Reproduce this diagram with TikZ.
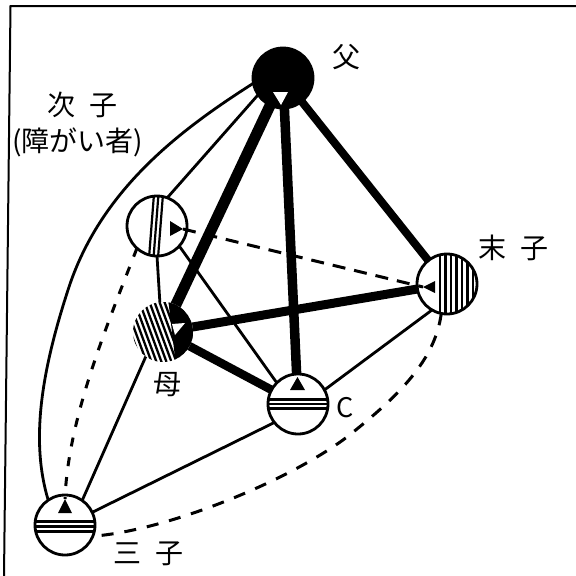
\documentclass[tikz,border=0pt]{standalone}
\usepackage{fontspec}
\newfontfamily\jp{Noto Sans CJK JP}
\usetikzlibrary{backgrounds,calc}
\begin{document}
\begin{tikzpicture}[x=1pt,y=-1pt,
  pers/.style={circle, minimum size=60pt, inner sep=0pt, outer sep=0pt, line width=2.8pt},
  rel/.style={line width=2.8pt},
  strong/.style={line width=#1},
  dsh/.style={line width=3pt, dash pattern=on #1},
  lbl/.style={font=\jp\fontsize{28}{30}\selectfont, inner sep=0pt},
  tri/.style={fill=black}
]
\useasboundingbox (0,0) rectangle (576,576);
\draw[line width=2pt] (4,576) -- (10.5,6) -- (576,6);

% persons
\node[pers, draw, fill=black] (fa) at (283,78) {};
\node[pers, draw, fill=white, path picture={
  \begin{scope}[shift={(path picture bounding box.center)}]
  \foreach \d in {-3,1.5,6} \draw[black, line width=2.2pt] (\d,-32) -- (\d-5,32);
  \end{scope}}] (sc) at (157,226) {};
\node[pers, fill=white, path picture={
  \begin{scope}[shift={(path picture bounding box.center)}]
  \foreach \d in {-50,-45,...,15} \draw[black, line width=2.3pt] (\d,-34) -- (\d+25,34);
  \fill[black] (5,-34) -- (40,-34) -- (40,34) -- (13,34) -- cycle;
  \fill[white] (9,-8) -- (22,-9) -- (12,3) -- cycle;
  \end{scope}}] (mo) at (163,332) {};
\node[pers, draw, fill=white, path picture={
  \begin{scope}[shift={(path picture bounding box.center)}]
  \foreach \d in {-7,-1.5,4,9.5,15,20.5,26} \draw[black, line width=2.2pt] (\d,-32) -- (\d,32);
  \end{scope}}] (yo) at (447,284) {};
\node[pers, draw, fill=white, path picture={
  \begin{scope}[shift={(path picture bounding box.center)}]
  \foreach \d in {-4.5,0,4.5} \draw[black, line width=2.6pt] (-32,\d) -- (32,\d);
  \end{scope}}] (cc) at (298,404) {};
\node[pers, draw, fill=white, path picture={
  \begin{scope}[shift={(path picture bounding box.center)}]
  \foreach \d in {-4,1,6} \draw[black, line width=3pt] (-32,\d) -- (32,\d);
  \end{scope}}] (tc) at (65,525) {};

% triangles
\fill[white] ($(fa)+(-10,14)$) -- ($(fa)+(5,14)$) -- ($(fa)+(-2,27)$) -- cycle;
\fill[tri] ($(sc)+(13,-5)$) -- ($(sc)+(13,10)$) -- ($(sc)+(26,3)$) -- cycle;
\fill[tri] ($(yo)+(-24,3)$) -- ($(yo)+(-12,-3)$) -- ($(yo)+(-12,9)$) -- cycle;
\fill[tri] ($(cc)+(-8,-14)$) -- ($(cc)+(7,-14)$) -- ($(cc)+(-0.5,-27)$) -- cycle;
\fill[tri] ($(tc)+(-7,-12)$) -- ($(tc)+(7,-12)$) -- ($(tc)+(0,-26)$) -- cycle;

% strong ties
\begin{scope}[on background layer]
\draw[strong=11pt] (fa.center) -- (mo.center);
\draw[strong=9.5pt] (fa.center) -- (cc.center);
\draw[strong=8pt] (fa.center) -- (yo.center);
\draw[strong=9pt] (mo.center) -- (yo.center);
\draw[strong=8.5pt] (mo.center) -- (cc.center);
\end{scope}

% ordinary ties
\draw[rel] (fa.190) .. controls (180,130) and (100,190) .. (68,290)
  .. controls (42,370) and (30,440) .. (tc.124);
\draw[rel] (fa.214) -- (sc.70);
\draw[rel] (sc.270) -- (mo.96);
\draw[rel] (sc.-42) -- (cc.135);
\draw[rel] (cc.28) -- (yo.240);
\draw[rel] (tc.25) -- (cc.218);
\draw[rel] (tc.55) -- (mo.235);

% weak ties
\draw[dsh={13pt off 9pt}] ($(sc)+(26,3)$) -- ($(yo)+(-24,3)$);
\draw[dsh={9pt off 11pt}] (sc.228) .. controls (105,330) and (68,420) .. ($(tc)+(0,-26)$);
\draw[dsh={12pt off 11pt}] (yo.259) .. controls (435,360) and (400,395) .. (347,437)
  .. controls (290,480) and (170,530) .. (tc.338);

% labels
\node[lbl] (lfa) at (346,57) {父};
\node[lbl] (lsc1) at (82,105) {次\hspace{0.5em}子};
\node[lbl] (lsc2) at (78,142) {(障がい者)};
\node[lbl] (lyo) at (513,248) {末\hspace{0.5em}子};
\node[lbl, font=\jp\fontsize{28}{30}\selectfont] (lmo) at (167,385) {母};
\node[lbl, font=\jp\fontsize{27}{29}\selectfont] (lcc) at (345,408) {C};
\node[lbl] (ltc) at (148,554) {三\hspace{0.5em}子};
\end{tikzpicture}
\end{document}
